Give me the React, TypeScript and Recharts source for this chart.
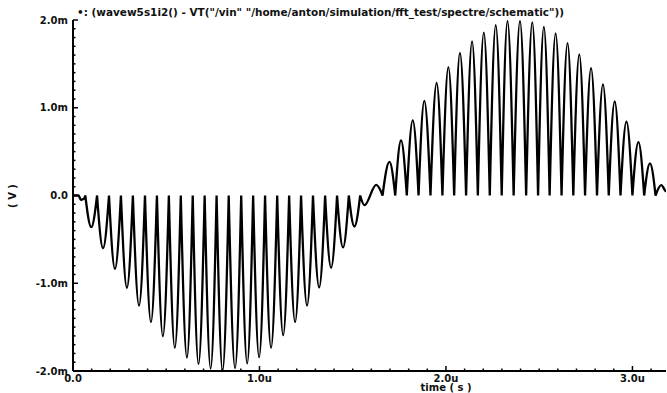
import { LineChart, Line, XAxis, YAxis } from 'recharts';

const W = 667;
const H = 393;

// time in us, voltage in mV
const leadTimes = [0, 0.03, 0.042, 0.056];
const leadVolts = [0, 0, -0.05, -0.04];

// points where the lobes touch zero
const cuspTimes = [
  0.066, 0.129, 0.193, 0.257, 0.321, 0.386, 0.45, 0.514, 0.578, 0.642,
  0.706, 0.77, 0.835, 0.902, 0.966, 1.03, 1.095, 1.159, 1.223, 1.287,
  1.352, 1.416, 1.479, 1.54,
  1.66, 1.728, 1.79, 1.853, 1.917, 1.981, 2.044, 2.108, 2.171, 2.235,
  2.299, 2.363, 2.43, 2.494, 2.556, 2.62, 2.683, 2.746, 2.81, 2.873,
  2.936, 3.0, 3.063, 3.124,
];

const troughTimes = [
  0.098, 0.161, 0.225, 0.289, 0.354, 0.418, 0.482, 0.546, 0.611, 0.673,
  0.738, 0.802, 0.869, 0.934, 0.998, 1.062, 1.127, 1.191, 1.255, 1.32,
  1.384, 1.448, 1.509, 1.563,
];
const troughVolts = [
  -0.361, -0.6, -0.835, -1.051, -1.255, -1.443, -1.604, -1.737, -1.847, -1.922,
  -1.973, -1.995, -1.969, -1.914, -1.843, -1.737, -1.592, -1.443, -1.255, -1.047,
  -0.824, -0.592, -0.353, -0.11,
];

const peakTimes = [
  1.626, 1.697, 1.759, 1.822, 1.884, 1.95, 2.013, 2.075, 2.14, 2.203,
  2.267, 2.33, 2.397, 2.463, 2.525, 2.588, 2.652, 2.715, 2.778, 2.842,
  2.905, 2.968, 3.032, 3.094, 3.155,
];
const peakVolts = [
  0.12, 0.384, 0.627, 0.855, 1.078, 1.282, 1.463, 1.624, 1.757, 1.855,
  1.941, 1.988, 1.988, 1.973, 1.922, 1.847, 1.737, 1.608, 1.451, 1.267,
  1.071, 0.843, 0.608, 0.365, 0.118,
];

const tailTimes = [3.18];
const tailVolts = [0.05];

const xMajorLabels = ['0.0', '1.0u', '2.0u', '3.0u'];
const yMajorLabels = ['-2.0m', '-1.0m', '0.0', '1.0m', '2.0m'];
const xMinorTicks = Array.from({ length: 32 }, (_, i) => i / 10);
const yMinorTicks = Array.from({ length: 41 }, (_, i) => (i - 20) / 10);

const title = '\u2022: (wavew5s1i2() - VT("/vin" "/home/anton/simulation/fft_test/spectre/schematic"))';

const FONT = '"DejaVu Sans", sans-serif';

const points = [
  ...leadTimes.map((t, i) => ({ t, v: leadVolts[i] })),
  ...cuspTimes.map((t) => ({ t, v: 0 })),
  ...troughTimes.map((t, i) => ({ t, v: troughVolts[i] })),
  ...peakTimes.map((t, i) => ({ t, v: peakVolts[i] })),
  ...tailTimes.map((t, i) => ({ t, v: tailVolts[i] })),
].sort((a, b) => a.t - b.t);

// a zero point with both neighbours further from zero is a sharp cusp
const sharp = points.map((p, i) => {
  const a = points[i - 1];
  const b = points[i + 1];
  if (!a || !b || Math.abs(p.v) > 0.02) return false;
  return Math.abs(a.v) > Math.abs(p.v) && Math.abs(b.v) > Math.abs(p.v);
});

// curve: flat tangent at extrema, steep tangent at cusps (|sin| shape)
const cuspCurve = (context: any) => {
  let pts: number[][] = [];
  return {
    areaStart() {},
    areaEnd() {},
    lineStart() {
      pts = [];
    },
    point(x: number, y: number) {
      pts.push([x, y]);
    },
    lineEnd() {
      if (!pts.length) return;
      context.moveTo(pts[0][0], pts[0][1]);
      for (let i = 1; i < pts.length; i++) {
        const [x0, y0] = pts[i - 1];
        const [x1, y1] = pts[i];
        const dx = x1 - x0;
        const dy = y1 - y0;
        context.bezierCurveTo(
          x0 + dx / 3,
          y0 + (sharp[i - 1] ? 0.52 * dy : 0),
          x1 - dx / 3,
          y1 - (sharp[i] ? 0.52 * dy : 0),
          x1,
          y1,
        );
      }
    },
  };
};

const isMajor = (v: number) => Math.abs(v - Math.round(v)) < 1e-6;

const XTick = (props: any) => {
  const { x, y, payload } = props;
  const major = isMajor(payload.value);
  return (
    <g>
      <line x1={x} x2={x} y1={y} y2={y - (major ? 5 : 2.5)} stroke="#000" strokeWidth={1.5} />
      {major && (
        <text x={x} y={y + 10.5} textAnchor="middle" fontSize={10} fontWeight="bold" fontFamily={FONT} fill="#111">
          {xMajorLabels[Math.round(payload.value)]}
        </text>
      )}
    </g>
  );
};

const YTick = (props: any) => {
  const { x, y, payload } = props;
  const major = isMajor(payload.value);
  return (
    <g>
      <line x1={x} x2={x + (major ? 5 : 2.5)} y1={y} y2={y} stroke="#000" strokeWidth={1.5} />
      {major && (
        <text x={x - 5} y={y + 3.5} textAnchor="end" fontSize={10} fontWeight="bold" fontFamily={FONT} fill="#111">
          {yMajorLabels[Math.round(payload.value) + 2]}
        </text>
      )}
    </g>
  );
};

export default function App() {
  return (
    <div style={{ position: 'absolute', left: 0, top: 0, width: W, height: H, background: '#fff' }}>
      <LineChart width={W} height={H} data={points} margin={{ top: 20, right: 1, bottom: 0, left: 0 }}>
        <XAxis
          dataKey="t"
          type="number"
          domain={[0, 3.18]}
          ticks={xMinorTicks}
          interval={0}
          allowDataOverflow
          height={22}
          tickSize={0}
          tickMargin={0}
          tickLine={false}
          axisLine={{ stroke: '#000', strokeWidth: 2 }}
          tick={<XTick />}
        />
        <YAxis
          type="number"
          domain={[-2, 2]}
          ticks={yMinorTicks}
          interval={0}
          allowDataOverflow
          width={73}
          tickSize={0}
          tickMargin={0}
          tickLine={false}
          axisLine={{ stroke: '#000', strokeWidth: 2 }}
          tick={<YTick />}
        />
        <Line
          dataKey="v"
          type={cuspCurve as any}
          stroke="#000"
          strokeWidth={2.3}
          dot={false}
          isAnimationActive={false}
        />
      </LineChart>
      <svg width={W} height={H} style={{ position: 'absolute', left: 0, top: 0, pointerEvents: 'none' }}>
        <text x={77} y={16} textLength={487} lengthAdjust="spacingAndGlyphs" fontSize={10} fontWeight="bold" fontFamily={FONT} fill="#111">
          {title}
        </text>
        <text
          x={12}
          y={196}
          transform="rotate(-90, 12, 196)"
          textAnchor="middle"
          dominantBaseline="central"
          fontSize={10}
          fontWeight="bold"
          fontFamily={FONT}
          fill="#111"
        >
          ( V )
        </text>
        <text x={446} y={391} textAnchor="middle" fontSize={10} fontWeight="bold" fontFamily={FONT} fill="#111">
          time ( s )
        </text>
      </svg>
    </div>
  );
}
